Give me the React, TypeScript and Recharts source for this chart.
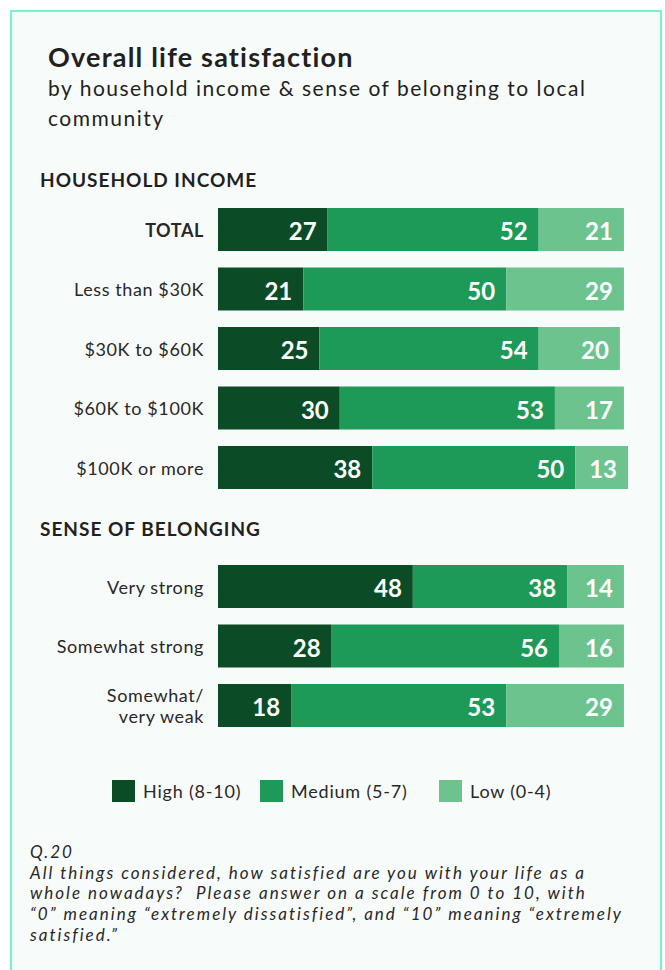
import React from "react";
import { BarChart, Bar, XAxis, YAxis, LabelList } from "recharts";

const incomeCategories = ["TOTAL", "Less than $30K", "$30K to $60K", "$60K to $100K", "$100K or more"];
const incomeHigh = [27, 21, 25, 30, 38];
const incomeMedium = [52, 50, 54, 53, 50];
const incomeLow = [21, 29, 20, 17, 13];

const belongingCategories = ["Very strong", "Somewhat strong", "Somewhat/\nvery weak"];
const belongingHigh = [48, 28, 18];
const belongingMedium = [38, 56, 53];
const belongingLow = [14, 16, 29];

const seriesKeys = ["high", "medium", "low"];
const seriesNames = ["High (8-10)", "Medium (5-7)", "Low (0-4)"];
const seriesColors = ["#0b4c27", "#1e9a58", "#6cc38e"];

const FONT = "Lato, 'Noto Sans', sans-serif";

const buildRows = (cats: string[], high: number[], medium: number[], low: number[]) =>
  cats.map((name, i) => ({ name, high: high[i], medium: medium[i], low: low[i] }));

const incomeData = buildRows(incomeCategories, incomeHigh, incomeMedium, incomeLow);
const belongingData = buildRows(belongingCategories, belongingHigh, belongingMedium, belongingLow);

const CategoryTick = (props: any) => {
  const { x, y, payload } = props;
  const lines = String(payload.value).split("\n");
  const bold = payload.value === "TOTAL";
  const lh = 21;
  const start = y - ((lines.length - 1) * lh) / 2;
  return (
    <text
      x={x}
      y={start}
      textAnchor="end"
      dominantBaseline="central"
      fill="#2a2728"
      fontFamily={FONT}
      fontSize={18}
      fontWeight={bold ? 700 : 400}
      letterSpacing={0.6}
    >
      {lines.map((l, i) => (
        <tspan key={i} x={x} y={start + i * lh}>
          {l}
        </tspan>
      ))}
    </text>
  );
};

const ValueLabel = (props: any) => {
  const { x, y, width, height, value } = props;
  return (
    <text
      x={x + width - 11}
      y={y + height / 2 + 1}
      textAnchor="end"
      dominantBaseline="central"
      fill="#ffffff"
      fontFamily={FONT}
      fontSize={24}
      fontWeight={700}
    >
      {value}
    </text>
  );
};

function StackChart({ data, height }: { data: any[]; height: number }) {
  return (
    <BarChart
      layout="vertical"
      width={628}
      height={height}
      data={data}
      margin={{ top: 0, right: 0, bottom: 0, left: 0 }}
      barSize={43}
    >
      <XAxis type="number" domain={[0, 101]} hide />
      <YAxis
        type="category"
        dataKey="name"
        width={218}
        axisLine={false}
        tickLine={false}
        tickSize={0}
        tickMargin={14}
        interval={0}
        tick={<CategoryTick />}
      />
      {seriesKeys.map((k, i) => (
        <Bar key={k} dataKey={k} stackId="a" fill={seriesColors[i]} isAnimationActive={false}>
          <LabelList dataKey={k} content={<ValueLabel />} />
        </Bar>
      ))}
    </BarChart>
  );
}

export default function App() {
  return (
    <div
      style={{
        position: "absolute",
        left: 0,
        top: 0,
        width: 665,
        height: 970,
        background: "#ffffff",
        overflow: "hidden",
        fontFamily: FONT,
      }}
    >
      <div
        style={{
          position: "absolute",
          left: 10,
          top: 10,
          width: 648,
          height: 1000,
          border: "2px solid #7af2cd",
          background: "#f7fcfb",
        }}
      />
      <div
        style={{
          position: "absolute",
          left: 48,
          top: 40,
          fontSize: 27,
          fontWeight: 700,
          letterSpacing: 1.2,
          color: "#231f20",
          whiteSpace: "nowrap",
        }}
      >
        Overall life satisfaction
      </div>
      <div
        style={{
          position: "absolute",
          left: 48,
          top: 73,
          fontSize: 21,
          lineHeight: "30px",
          letterSpacing: 1.5,
          color: "#231f20",
          whiteSpace: "nowrap",
        }}
      >
        by household income &amp; sense of belonging to local
        <br />
        community
      </div>
      <div
        style={{
          position: "absolute",
          left: 40,
          top: 168,
          fontSize: 19,
          fontWeight: 700,
          letterSpacing: 1,
          color: "#231f20",
        }}
      >
        HOUSEHOLD INCOME
      </div>
      <div style={{ position: "absolute", left: 0, top: 200 }}>
        <StackChart data={incomeData} height={297.5} />
      </div>
      <div
        style={{
          position: "absolute",
          left: 40,
          top: 517,
          fontSize: 19,
          fontWeight: 700,
          letterSpacing: 1,
          color: "#231f20",
        }}
      >
        SENSE OF BELONGING
      </div>
      <div style={{ position: "absolute", left: 0, top: 557 }}>
        <StackChart data={belongingData} height={178.5} />
      </div>
      <div style={{ position: "absolute", left: 0, top: 780, width: 665, height: 22 }}>
        {seriesNames.map((n, i) => (
          <div
            key={n}
            style={{
              position: "absolute",
              left: [112, 260, 439][i],
              top: 0,
              height: 22,
              display: "flex",
              alignItems: "center",
            }}
          >
            <span style={{ width: 23, height: 22, background: seriesColors[i], display: "inline-block" }} />
            <span style={{ marginLeft: 8, fontSize: 18, color: "#2a2728", letterSpacing: 0.8, whiteSpace: "nowrap" }}>
              {n}
            </span>
          </div>
        ))}
      </div>
      <div
        style={{
          position: "absolute",
          left: 30,
          top: 842,
          fontSize: 17,
          lineHeight: "20.7px",
          letterSpacing: 2,
          fontStyle: "italic",
          color: "#2a2728",
          whiteSpace: "nowrap",
        }}
      >
        Q.20
        <br />
        All things considered, how satisfied are you with your life as a
        <br />
        whole nowadays?&nbsp; Please answer on a scale from 0 to 10, with
        <br />
        “0” meaning “extremely dissatisfied”, and “10” meaning “extremely
        <br />
        satisfied.”
      </div>
    </div>
  );
}
